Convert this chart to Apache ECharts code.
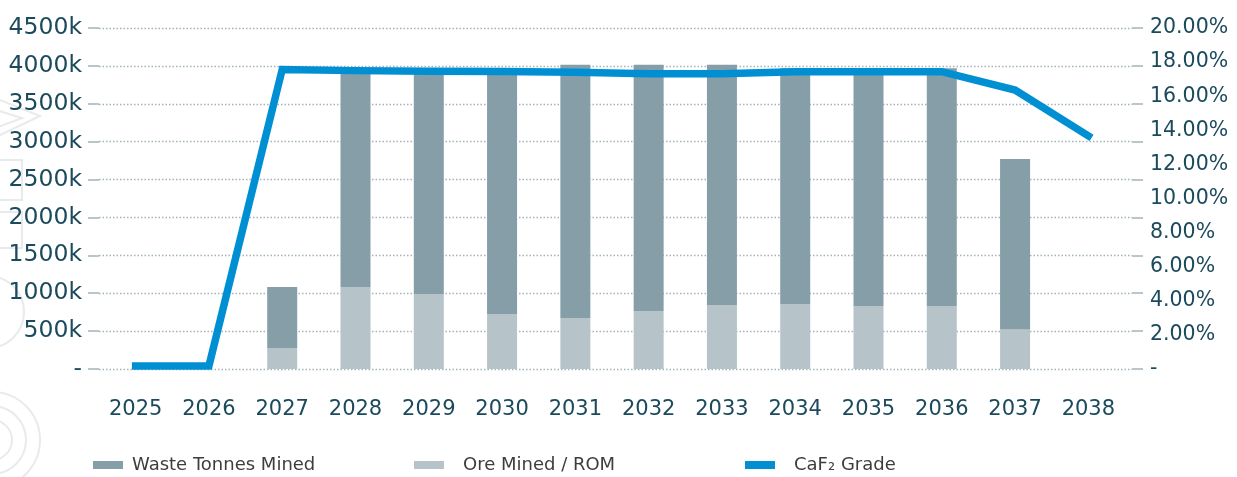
<!DOCTYPE html>
<html>
<head>
<meta charset="utf-8">
<style>
  html, body { margin: 0; padding: 0; background: #ffffff; }
  #chart { width: 1237px; height: 477px; }
</style>
<script src="https://cdn.jsdelivr.net/npm/echarts@6/dist/echarts.min.js"></script>
</head>
<body>
<div id="chart"></div>
<script>
// Mining schedule: tonnes moved per year (thousands) and head grade
const years = ['2025', '2026', '2027', '2028', '2029', '2030', '2031',
               '2032', '2033', '2034', '2035', '2036', '2037', '2038'];
const oreMined = [0, 0, 277, 1082, 990, 726, 673, 766, 845, 858, 832, 832, 520, 0];
const wasteMined = [0, 0, 805, 2888, 2980, 3244, 3342, 3249, 3170, 3112, 3138, 3138, 2252, 0];
const caf2Grade = [0.0018, 0.0018, 0.1757, 0.1750, 0.1747, 0.1745, 0.1741,
                   0.1731, 0.1731, 0.1744, 0.1744, 0.1744, 0.1636, 0.1367];
const tonnesTicks = { min: 0, max: 4500, interval: 500 };
const gradeTicks = { min: 0, max: 0.20, interval: 0.02 };

const TEAL = '#1b4a5c';
const FONT = 'DejaVu Sans';
const GRID_TOP = 28, GRID_BOTTOM = 108;

const chart = echarts.init(document.getElementById('chart'), null, { renderer: 'canvas' });

const faint = { stroke: '#e8eaeb', lineWidth: 2, fill: 'none' };

chart.setOption({
  animation: false,
  backgroundColor: '#ffffff',
  textStyle: { fontFamily: FONT },
  graphic: [
    // faint emblem in the left margin
    { type: 'polyline', z: -10, silent: true, shape: { points: [[-10, 96], [40, 116], [-10, 140]] }, style: faint },
    { type: 'polyline', z: -10, silent: true, shape: { points: [[-10, 108], [22, 118], [-10, 130]] }, style: faint },
    { type: 'rect', z: -10, silent: true, shape: { x: -10, y: 160, width: 32, height: 40 }, style: faint },
    { type: 'rect', z: -10, silent: true, shape: { x: -10, y: 212, width: 32, height: 36 }, style: faint },
    { type: 'circle', z: -10, silent: true, shape: { cx: -12, cy: 312, r: 36 }, style: faint },
    { type: 'circle', z: -10, silent: true, shape: { cx: -8, cy: 440, r: 20 }, style: faint },
    { type: 'circle', z: -10, silent: true, shape: { cx: -8, cy: 440, r: 34 }, style: faint },
    { type: 'circle', z: -10, silent: true, shape: { cx: -8, cy: 440, r: 48 }, style: faint }
  ],
  legend: [
    {
      left: 93, top: 456, padding: 0, itemWidth: 30, itemHeight: 8, icon: 'rect',
      data: ['Waste Tonnes Mined'],
      textStyle: { fontFamily: FONT, fontSize: 18, color: '#3d3d3d', padding: [0, 0, 0, 4] }
    },
    {
      left: 414, top: 456, padding: 0, itemWidth: 30, itemHeight: 8, icon: 'rect',
      data: ['Ore Mined / ROM'],
      textStyle: { fontFamily: FONT, fontSize: 18, color: '#3d3d3d', padding: [0, 0, 0, 14] }
    },
    {
      left: 745, top: 456, padding: 0, itemWidth: 30, itemHeight: 8, icon: 'rect',
      data: ['CaF₂ Grade'],
      textStyle: { fontFamily: FONT, fontSize: 18, color: '#3d3d3d', padding: [0, 0, 0, 14] }
    }
  ],
  grid: [
    { left: 99, right: 112, top: GRID_TOP, bottom: GRID_BOTTOM, containLabel: false },
    { left: 99, right: 105, top: GRID_TOP, bottom: GRID_BOTTOM, containLabel: false }
  ],
  xAxis: [
    {
      type: 'category', gridIndex: 0, data: years, boundaryGap: true,
      axisLine: { show: false }, axisTick: { show: false }, splitLine: { show: false },
      axisLabel: { color: TEAL, fontFamily: FONT, fontSize: 21, margin: 30, interval: 0 }
    },
    { type: 'value', gridIndex: 1, min: 0, max: 1, show: false }
  ],
  yAxis: [
    {
      type: 'value', gridIndex: 0, position: 'left',
      min: tonnesTicks.min, max: tonnesTicks.max, interval: tonnesTicks.interval,
      axisLine: { show: false }, axisTick: { show: false }, splitLine: { show: false },
      axisLabel: {
        color: TEAL, fontFamily: FONT, fontSize: 23.5, margin: 17,
        padding: [0, 0, 8, 0],
        formatter: v => (v === 0 ? '-' : v + 'k')
      }
    },
    {
      type: 'value', gridIndex: 0, position: 'right',
      min: gradeTicks.min, max: gradeTicks.max, interval: gradeTicks.interval,
      axisLine: { show: false }, axisTick: { show: false }, splitLine: { show: false },
      axisLabel: {
        color: TEAL, fontFamily: FONT, fontSize: 20.5, margin: 25,
        padding: [0, 0, 8, 0],
        formatter: v => (v === 0 ? '-' : (v * 100).toFixed(2) + '%')
      }
    },
    // dotted guide lines with short solid ends on both sides
    {
      type: 'value', gridIndex: 1, position: 'left',
      min: tonnesTicks.min, max: tonnesTicks.max, interval: tonnesTicks.interval,
      axisLine: { show: false }, axisLabel: { show: false },
      axisTick: { show: true, length: 11, lineStyle: { color: '#b9c7cc', width: 2 } },
      splitLine: { show: true, lineStyle: { color: '#a3b3ba', width: 1.4, type: [1.5, 2] } }
    },
    {
      type: 'value', gridIndex: 1, position: 'right',
      min: tonnesTicks.min, max: tonnesTicks.max, interval: tonnesTicks.interval,
      axisLine: { show: false }, axisLabel: { show: false },
      axisTick: { show: true, length: 11, lineStyle: { color: '#b9c7cc', width: 2 } },
      splitLine: { show: false }
    }
  ],
  series: [
    {
      name: 'Ore Mined / ROM', type: 'bar', stack: 'tonnes',
      xAxisIndex: 0, yAxisIndex: 0, barWidth: 30,
      itemStyle: { color: '#b6c4ca' }, data: oreMined, z: 2
    },
    {
      name: 'Waste Tonnes Mined', type: 'bar', stack: 'tonnes',
      xAxisIndex: 0, yAxisIndex: 0, barWidth: 30,
      itemStyle: { color: '#869ea7' }, data: wasteMined, z: 2
    },
    {
      name: 'CaF₂ Grade', type: 'line', xAxisIndex: 0, yAxisIndex: 1,
      data: caf2Grade, symbol: 'none', smooth: false, clip: false, z: 5,
      lineStyle: { color: '#008fd3', width: 7.5, join: 'miter', cap: 'square' },
      itemStyle: { color: '#008fd3' }
    }
  ]
});
</script>
</body>
</html>
